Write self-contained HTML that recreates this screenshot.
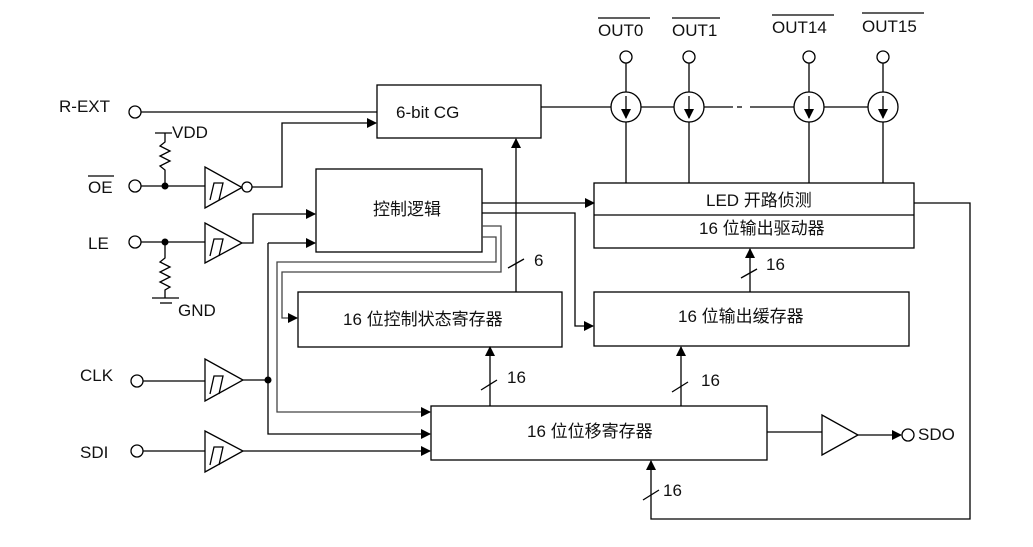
<!DOCTYPE html>
<html><head><meta charset="utf-8"><style>
body{margin:0;background:#fff;}
svg{display:block;}
text{font-family:"Liberation Sans","Noto Sans CJK SC",sans-serif;fill:#111;}
</style></head><body>
<svg width="1033" height="547" viewBox="0 0 1033 547" xmlns="http://www.w3.org/2000/svg">
<defs>
<marker id="a" markerWidth="10" markerHeight="10" refX="9" refY="5" orient="auto" markerUnits="userSpaceOnUse"><path d="M0,0 L10,5 L0,10 z" fill="#000"/></marker>
</defs>
<g stroke="#000" stroke-width="1.3" fill="none">
<circle cx="135" cy="112" r="6" fill="#fff"/>
<line x1="141" y1="112" x2="377" y2="112"/>
<rect x="377" y="85" width="164" height="53"/>
<line x1="155" y1="133" x2="172" y2="133"/>
<polyline points="165,133 165,142 160,146 170,151 160,156 170,161 160,166 165,170 165,186"/>
<circle cx="135" cy="186" r="6" fill="#fff"/>
<line x1="141" y1="186" x2="205" y2="186"/>
<polygon points="205,167 205,208 242,187.5"/>
<polyline points="210,200 214,183 223,183 219,200 z"/>
<circle cx="247" cy="187" r="5" fill="#fff"/>
<polyline points="252,187 282,187 282,123 376,123" marker-end="url(#a)"/>
<circle cx="135" cy="242" r="6" fill="#fff"/>
<line x1="141" y1="242" x2="205" y2="242"/>
<polygon points="205,223 205,263 242,243"/>
<polyline points="210,256 214,239 223,239 219,256 z"/>
<polyline points="242,243 253,243 253,214 315,214" marker-end="url(#a)"/>
<polyline points="165,242 165,258 160,262 170,267 160,272 170,277 160,282 170,287 165,290 165,298"/>
<line x1="152" y1="298" x2="179" y2="298"/>
<line x1="160" y1="303" x2="172" y2="303"/>
<rect x="316" y="169" width="166" height="83"/>
<line x1="482" y1="203" x2="594" y2="203" marker-end="url(#a)"/>
<polyline points="482,213 575,213 575,326 593,326" marker-end="url(#a)"/>
<polyline points="482,226 501,226 501,272 282,272 282,318 297,318" marker-end="url(#a)" stroke="#444"/>
<polyline points="482,237 496,237 496,262 277,262 277,412 430,412" marker-end="url(#a)" stroke="#444"/>
<line x1="268" y1="243" x2="315" y2="243" marker-end="url(#a)"/>
<rect x="298" y="292" width="264" height="55"/>
<line x1="516" y1="292" x2="516" y2="139" marker-end="url(#a)"/>
<line x1="508" y1="268" x2="524" y2="259"/>
<line x1="541" y1="107" x2="611" y2="107"/>
<line x1="641" y1="107" x2="674" y2="107"/>
<line x1="704" y1="107" x2="733" y2="107"/>
<line x1="737" y1="107" x2="742" y2="107"/>
<line x1="750" y1="107" x2="794" y2="107"/>
<line x1="824" y1="107" x2="868" y2="107"/>
<circle cx="626" cy="57" r="6"/><circle cx="689" cy="57" r="6"/><circle cx="809" cy="57" r="6"/><circle cx="883" cy="57" r="6"/>
<circle cx="626" cy="107" r="15"/><circle cx="689" cy="107" r="15"/><circle cx="809" cy="107" r="15"/><circle cx="883" cy="107" r="15"/>
<line x1="626" y1="63" x2="626" y2="92"/><line x1="689" y1="63" x2="689" y2="92"/><line x1="809" y1="63" x2="809" y2="92"/><line x1="883" y1="63" x2="883" y2="92"/>
<line x1="626" y1="96" x2="626" y2="118" marker-end="url(#a)"/><line x1="689" y1="96" x2="689" y2="118" marker-end="url(#a)"/><line x1="809" y1="96" x2="809" y2="118" marker-end="url(#a)"/><line x1="883" y1="96" x2="883" y2="118" marker-end="url(#a)"/>
<line x1="626" y1="122" x2="626" y2="183"/><line x1="689" y1="122" x2="689" y2="183"/><line x1="809" y1="122" x2="809" y2="183"/><line x1="883" y1="122" x2="883" y2="183"/>
<rect x="594" y="183" width="320" height="65"/>
<line x1="594" y1="215" x2="914" y2="215"/>
<rect x="594" y="292" width="315" height="54"/>
<line x1="750" y1="292" x2="750" y2="249" marker-end="url(#a)"/>
<line x1="741" y1="278" x2="757" y2="269"/>
<circle cx="137" cy="381" r="6" fill="#fff"/>
<line x1="143" y1="381" x2="205" y2="381"/>
<polygon points="205,359 205,401 243,380"/>
<polyline points="210,394 214,376 223,376 219,394 z"/>
<line x1="243" y1="380" x2="268" y2="380"/>
<polyline points="268,243 268,434 430,434" marker-end="url(#a)"/>
<circle cx="137" cy="451" r="6" fill="#fff"/>
<line x1="143" y1="451" x2="205" y2="451"/>
<polygon points="205,431 205,472 243,451"/>
<polyline points="210,465 214,447 223,447 219,465 z"/>
<line x1="243" y1="451" x2="430" y2="451" marker-end="url(#a)"/>
<rect x="431" y="406" width="336" height="54"/>
<line x1="490" y1="406" x2="490" y2="347" marker-end="url(#a)"/>
<line x1="481" y1="390" x2="497" y2="380"/>
<line x1="681" y1="406" x2="681" y2="347" marker-end="url(#a)"/>
<line x1="672" y1="392" x2="688" y2="382"/>
<line x1="767" y1="432" x2="822" y2="432"/>
<polygon points="822,415 822,455 858,435"/>
<line x1="858" y1="435" x2="901" y2="435" marker-end="url(#a)"/>
<circle cx="908" cy="435" r="6" fill="#fff"/>
<polyline points="914,203 970,203 970,519 651,519 651,461" marker-end="url(#a)"/>
<line x1="643" y1="500" x2="659" y2="490"/>
</g>
<circle cx="165" cy="186" r="3.5" fill="#000"/>
<circle cx="165" cy="242" r="3.5" fill="#000"/>
<circle cx="268" cy="380" r="3.5" fill="#000"/>
<g font-size="17">
<text x="59" y="112">R-EXT</text>
<text x="172" y="138">VDD</text>
<text x="88" y="193">OE</text>
<line x1="88" y1="176" x2="114" y2="176" stroke="#000" stroke-width="1.2"/>
<text x="88" y="249">LE</text>
<text x="178" y="316">GND</text>
<text x="80" y="381">CLK</text>
<text x="80" y="458">SDI</text>
<text x="918" y="440">SDO</text>
<text x="396" y="118">6-bit CG</text>
<text x="598" y="36">OUT0</text><line x1="598" y1="18" x2="650" y2="18" stroke="#000" stroke-width="1.2"/>
<text x="672" y="36">OUT1</text><line x1="672" y1="18" x2="720" y2="18" stroke="#000" stroke-width="1.2"/>
<text x="772" y="33">OUT14</text><line x1="772" y1="15" x2="834" y2="15" stroke="#000" stroke-width="1.2"/>
<text x="862" y="32">OUT15</text><line x1="862" y1="13" x2="924" y2="13" stroke="#000" stroke-width="1.2"/>
<text x="373" y="215">控制逻辑</text>
<text x="343" y="325">16 位控制状态寄存器</text>
<text x="706" y="206">LED 开路侦测</text>
<text x="699" y="234">16 位输出驱动器</text>
<text x="678" y="322">16 位输出缓存器</text>
<text x="527" y="437">16 位位移寄存器</text>
<text x="534" y="266">6</text>
<text x="766" y="270">16</text>
<text x="507" y="383">16</text>
<text x="701" y="386">16</text>
<text x="663" y="496">16</text>
</g>
</svg>
</body></html>
